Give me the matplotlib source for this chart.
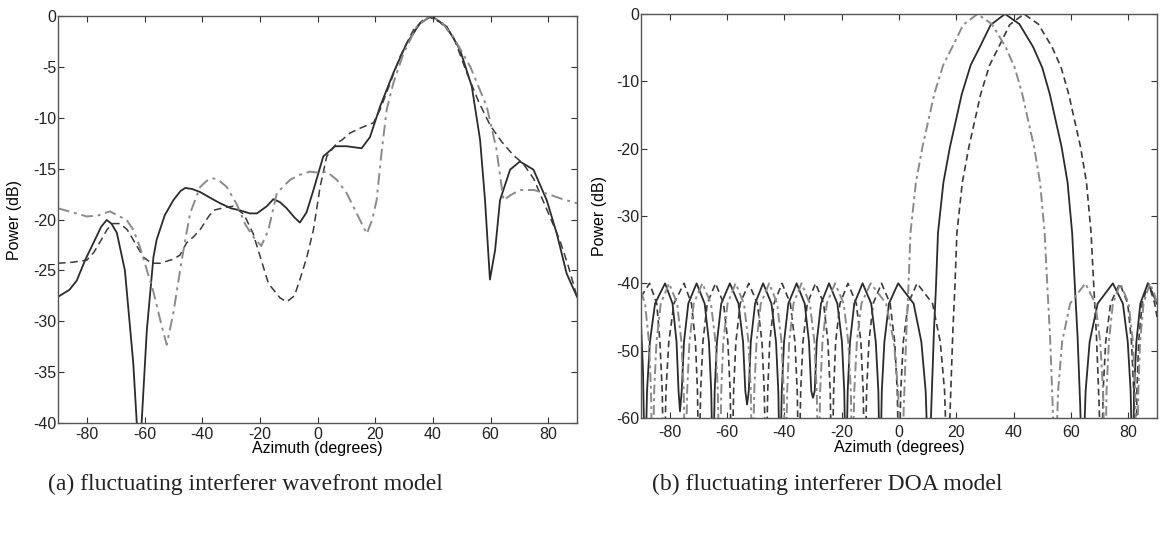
import numpy as np
import matplotlib
matplotlib.use("Agg")
import matplotlib.pyplot as plt

# ---- (a) fluctuating interferer wavefront model ----
a_solid_x = [-90, -86, -83.5, -80.6, -77.2, -75, -73.1, -71.5, -69.6, -66.8, -63.9, -62.7, -61.9,
             -61.0, -59.2, -56.9, -55.8, -53, -50, -47.5, -45.9, -43.5, -40.7, -37, -33.8, -30, -26.9, -23.5,
             -21, -17.6, -15.3, -13, -10.7, -8, -6.1, -3.8, -1.4, 2.0, 6.1, 10.1, 15.3, 18.2, 21.7, 26.3,
             30.9, 35.6, 39.6, 44.8, 49.4, 53.5, 56.4, 58.1, 59.8, 61.6, 63.3, 66.8, 70.2, 74.9,
             79.5, 83, 86.4, 90]
a_solid_y = [-27.6, -26.9, -26.0, -24.0, -22.0, -20.7, -20.05, -20.4, -21.3, -25.0, -34.1, -39.9, -50,
             -40.0, -30.9, -23.7, -22.0, -19.6, -18.1, -17.2, -16.9, -17.0, -17.3, -17.9, -18.4, -18.9, -19.1, -19.4,
             -19.4, -18.7, -18.0, -18.3, -18.9, -19.8, -20.3, -19.3, -17.1, -13.8, -12.8, -12.8, -13.0, -11.9, -8.9, -5.6,
             -2.7, -0.7, 0.0, -1.05, -3.3, -6.9, -12.2, -18.1, -25.9, -23.0, -18.1, -15.1, -14.3, -15.1,
             -18.1, -21.4, -25.3, -27.6]

a_dash_x = [-90, -85, -80, -77.5, -75.4, -73, -71, -68.5, -66, -63.9, -60.4, -57.5, -54.6, -50,
            -47.7, -45.4, -43, -40.7, -38, -36.1, -32, -29.2, -25.5, -22.3, -19.5, -17, -13, -10.7, -8,
            -6.1, -3.7, -1.4, 0.9, 3.2, 6.7, 8.4, 11.3, 15, 19.4, 21.7, 25.2, 28.6, 33.2, 37.9,
            42.5, 47.1, 51.8, 56, 60, 64, 68, 71.3, 75, 79.5, 84, 87, 90]
a_dash_y = [-24.3, -24.2, -24.0, -23.2, -22.2, -21.0, -20.4, -20.4, -21.0, -22.0, -23.7, -24.3, -24.3, -23.9,
            -23.5, -22.3, -21.7, -21.0, -19.8, -19.1, -18.8, -18.7, -19.5, -21.4, -24.0, -26.3, -27.7, -28.1, -27.5,
            -25.9, -23.7, -21.0, -16.8, -13.8, -12.5, -12.2, -11.5, -11.0, -10.5, -9.2, -6.6, -4.0, -1.4, 0.0,
            -0.6, -2.0, -5.6, -8.5, -10.8, -12.4, -13.7, -14.5, -16.0, -19.0, -22.0, -24.6, -27.6]

a_dot_x = [-90, -85, -80, -76, -72, -68, -66.2, -63.9, -61.6, -57, -54, -52.3, -50, -47.1,
           -44.2, -40.7, -38, -36.1, -34, -31.5, -28, -25, -22.3, -19.5, -17, -14.1, -9.5, -6.1,
           -2.6, 0.5, 3.2, 6.7, 10.1, 13.6, 17.1, 19, 20.5, 22.3, 24, 26.3, 29.8, 34.4, 39,
           43, 47, 53, 58.7, 62, 64.5, 67, 70.2, 75, 80, 85, 90]
a_dot_y = [-18.9, -19.3, -19.7, -19.6, -19.2, -19.8, -20.05, -21.0, -22.7, -27.0, -30.5, -32.3, -29.2, -24.0,
           -19.4, -16.8, -16.1, -15.95, -16.2, -16.8, -18.5, -20.5, -21.7, -22.6, -21.0, -17.4, -16.1, -15.6,
           -15.3, -15.4, -15.3, -16.1, -17.4, -19.4, -21.4, -20.0, -18.1, -13.2, -9.2, -6.6, -3.7, -1.05, 0.0,
           -0.6, -2.0, -5.0, -8.9, -13.0, -18.1, -17.6, -17.1, -17.1, -17.5, -18.0, -18.4]

# ---- (b) fluctuating interferer DOA model ----
b_solid_x = [-90, -89.3, -88.6,
             -87.9, -86.9, -85.1, -81.6, -79.0, -77.6, -76.9, -76.4,
             -75.8, -75.0, -73.5, -70.6, -67.8, -66.3, -65.5, -64.9,
             -64.3, -63.5, -62.0, -59.0, -56.0, -54.4, -53.6, -53.0,
             -52.4, -51.7, -50.2, -47.4, -44.5, -42.9, -42.1, -41.5,
             -40.9, -40.1, -38.6, -35.7, -32.9, -31.4, -30.6, -30.0,
             -29.4, -28.7, -27.2, -24.4, -21.5, -19.9, -19.1, -18.5,
             -17.9, -17.1, -15.6, -12.7, -9.7, -8.1, -7.2, -6.6,
             -6.0, -5.1, -3.5, -0.3, 5.1, 7.8, 9.3, 10.4,
             11.3, 12.2, 12.9, 13.6, 15.5, 17.8, 21.9, 25.0, 28.2, 32.0, 37.0,
             42.0, 46.8, 50.0, 52.6, 56.7, 58.8, 60.4, 61.3, 62.3, 63.2, 64.0,
             65.1, 66.5, 69.3, 74.6, 78.1, 79.8, 80.8, 81.5,
             82.0, 82.8, 84.2, 86.8, 88.5, 90]
b_solid_y = [-46, -53, -70,
             -56, -48.7, -43, -40, -43, -48.7, -56, -59,
             -56, -48.7, -43, -40, -43, -48.7, -56, -70,
             -56, -48.7, -43, -40, -43, -48.7, -56, -58,
             -56, -48.7, -43, -40, -43, -48.7, -56, -70,
             -56, -48.7, -43, -40, -43, -48.7, -56, -57,
             -56, -48.7, -43, -40, -43, -48.7, -56, -70,
             -56, -48.7, -43, -40, -43, -48.7, -56, -70,
             -56, -48.7, -43, -40, -43, -48.7, -56, -70,
             -58, -47, -40.5, -32.5, -25, -19.7, -11.9, -7.6, -4.9, -1.6, 0,
             -1.5, -4.9, -8, -11.9, -19.7, -25, -32.5, -40, -48, -58, -70,
             -56, -48.7, -43, -40, -43, -48.7, -56, -70,
             -56, -48.7, -43, -40, -41.5, -43]

b_dot_x = [-90, -88.6, -87.2, -86.5, -86.0,
           -85.4, -84.6, -83.1, -80.2, -77.4, -75.9, -75.1, -74.5,
           -73.9, -73.1, -71.6, -68.6, -65.6, -64.0, -63.2, -62.6,
           -62.0, -61.3, -59.8, -57.0, -54.1, -52.5, -51.7, -51.1,
           -50.5, -49.7, -48.2, -45.3, -42.5, -41.0, -40.2, -39.6,
           -39.0, -38.3, -36.8, -34.0, -31.1, -29.5, -28.7, -28.1,
           -27.5, -26.7, -25.2, -22.3, -19.3, -17.7, -16.8, -16.2,
           -15.6, -14.7, -13.1, -9.9, -4.5, -1.8, -0.3, 0.8,
           1.7, 2.6, 3.3, 4.0, 5.9, 8.2, 12.3, 15.4, 18.6, 22.4, 27.4,
           32.4, 37.2, 40.4, 43.0, 47.1, 49.2, 50.8, 51.7, 52.7, 53.6, 54.4,
           55.5, 56.9, 59.7, 65.0, 68.5, 70.2, 71.2, 71.9,
           72.4, 73.2, 74.6, 77.2, 80.1, 81.6, 82.4, 83.0,
           83.5, 84.1, 85.3, 87.5, 89.0, 90]
b_dot_y = [-41.2, -43, -48.7, -56, -70,
           -56, -48.7, -43, -40, -43, -48.7, -56, -70,
           -56, -48.7, -43, -40, -43, -48.7, -56, -70,
           -56, -48.7, -43, -40, -43, -48.7, -56, -70,
           -56, -48.7, -43, -40, -43, -48.7, -56, -70,
           -56, -48.7, -43, -40, -43, -48.7, -56, -70,
           -56, -48.7, -43, -40, -43, -48.7, -56, -70,
           -56, -48.7, -43, -40, -43, -48.7, -56, -70,
           -58, -47, -40.5, -32.5, -25, -19.7, -11.9, -7.6, -4.9, -1.6, 0,
           -1.5, -4.9, -8, -11.9, -19.7, -25, -32.5, -40, -48, -58, -70,
           -56, -48.7, -43, -40, -43, -48.7, -56, -70,
           -56, -48.7, -43, -40, -43, -48.7, -56, -70,
           -56, -48.7, -43, -40, -41.5, -43]

b_dash_x = [-90, -87.0, -84.5, -83.4, -82.6, -82.0,
            -81.3, -80.3, -78.5, -75.0, -72.4, -71.0, -70.3, -69.8,
            -69.2, -68.4, -66.9, -64.0, -61.2, -59.7, -58.9, -58.3,
            -57.7, -56.9, -55.4, -52.4, -49.4, -47.8, -47.0, -46.4,
            -45.8, -45.1, -43.6, -40.8, -37.9, -36.3, -35.5, -34.9,
            -34.3, -33.5, -32.0, -29.1, -26.3, -24.8, -24.0, -23.4,
            -22.8, -22.1, -20.6, -17.8, -14.9, -13.3, -12.5, -11.9,
            -11.3, -10.5, -9.0, -6.1, -3.1, -1.5, -0.6, 0.0,
            0.6, 1.5, 3.2, 6.3, 11.7, 14.4, 15.9, 17.0,
            17.9, 18.8, 19.5, 20.2, 22.1, 24.4, 28.5, 31.6, 34.8, 38.6, 43.6,
            48.6, 53.4, 56.6, 59.2, 63.3, 65.4, 67.0, 67.9, 68.9, 69.8, 70.6,
            71.2, 72.1, 73.8, 77.0, 79.8, 81.1, 81.9, 82.5,
            83.0, 83.6, 84.8, 87.0, 89.2, 90]
b_dash_y = [-42, -40, -43, -48.7, -56, -70,
            -56, -48.7, -43, -40, -43, -48.7, -56, -70,
            -56, -48.7, -43, -40, -43, -48.7, -56, -70,
            -56, -48.7, -43, -40, -43, -48.7, -56, -70,
            -56, -48.7, -43, -40, -43, -48.7, -56, -70,
            -56, -48.7, -43, -40, -43, -48.7, -56, -70,
            -56, -48.7, -43, -40, -43, -48.7, -56, -70,
            -56, -48.7, -43, -40, -43, -48.7, -56, -70,
            -56, -48.7, -43, -40, -43, -48.7, -56, -70,
            -58, -47, -40.5, -32.5, -25, -19.7, -11.9, -7.6, -4.9, -1.6, 0,
            -1.5, -4.9, -8, -11.9, -19.7, -25, -32.5, -40, -48, -58, -70,
            -56, -48.7, -43, -40, -43, -48.7, -56, -70,
            -56, -48.7, -43, -40, -43, -45]

xticks = [-80, -60, -40, -20, 0, 20, 40, 60, 80]
a_yticks = [0, -5, -10, -15, -20, -25, -30, -35, -40]
b_yticks = [0, -10, -20, -30, -40, -50, -60]

plt.rcParams['font.family'] = ['Liberation Sans', 'DejaVu Sans']
plt.rcParams['font.size'] = 11.5
plt.rcParams['axes.unicode_minus'] = False

fig = plt.figure(figsize=(11.61, 5.38), dpi=100)
axa = fig.add_axes([58 / 1161, 1 - 423 / 538, 519 / 1161, 407 / 538])
axb = fig.add_axes([641 / 1161, 1 - 418 / 538, 516 / 1161, 404 / 538])

solid_c = '#2b2b2b'
dash_c = '#3a3a3a'
dot_c = '#8a8a8a'

axa.plot(a_solid_x, a_solid_y, '-', color=solid_c, lw=1.3)
axa.plot(a_dash_x, a_dash_y, '--', color=dash_c, lw=1.1, dashes=(5, 3))
axa.plot(a_dot_x, a_dot_y, '-.', color=dot_c, lw=1.4, dashes=(6, 2.5, 1.5, 2.5))
axa.set_xlim(-90, 90)
axa.set_ylim(-40, 0)
axa.set_yticks(a_yticks)
axa.set_ylabel('Power (dB)', labelpad=8)
axa.tick_params(axis='x', pad=3)
axa.set_xlabel('Azimuth (degrees)', labelpad=-1)

axb.plot(b_solid_x, b_solid_y, '-', color=solid_c, lw=1.3)
axb.plot(b_dash_x, b_dash_y, '--', color=dash_c, lw=1.2, dashes=(4, 2.5))
axb.plot(b_dot_x, b_dot_y, '-.', color=dot_c, lw=1.4, dashes=(5, 2, 1.5, 2))
axb.set_xlim(-90, 90)
axb.set_ylim(-60, 0)
axb.set_yticks(b_yticks)
axb.set_ylabel('Power (dB)', labelpad=7)
axb.tick_params(axis='x', pad=5)
axb.set_xlabel('Azimuth (degrees)', labelpad=0)

for ax in (axa, axb):
    ax.set_xticks(xticks)
    ax.tick_params(direction='in', top=True, right=True, length=4, width=0.8,
                   colors='#333333', labelcolor='#222222')
    ax.tick_params(axis='y', pad=1)
    for s in ax.spines.values():
        s.set_color('#555555')
        s.set_linewidth(1.0)

fig.text(245 / 1161, 1 - 484 / 538, '(a) fluctuating interferer wavefront model',
         family=['Liberation Serif'], fontsize=17, ha='center', va='center', color='#222222')
fig.text(652 / 1161, 1 - 484 / 538, '(b) fluctuating interferer DOA model',
         family=['Liberation Serif'], fontsize=17, ha='left', va='center', color='#222222')

fig.savefig('out.png', dpi=100)
